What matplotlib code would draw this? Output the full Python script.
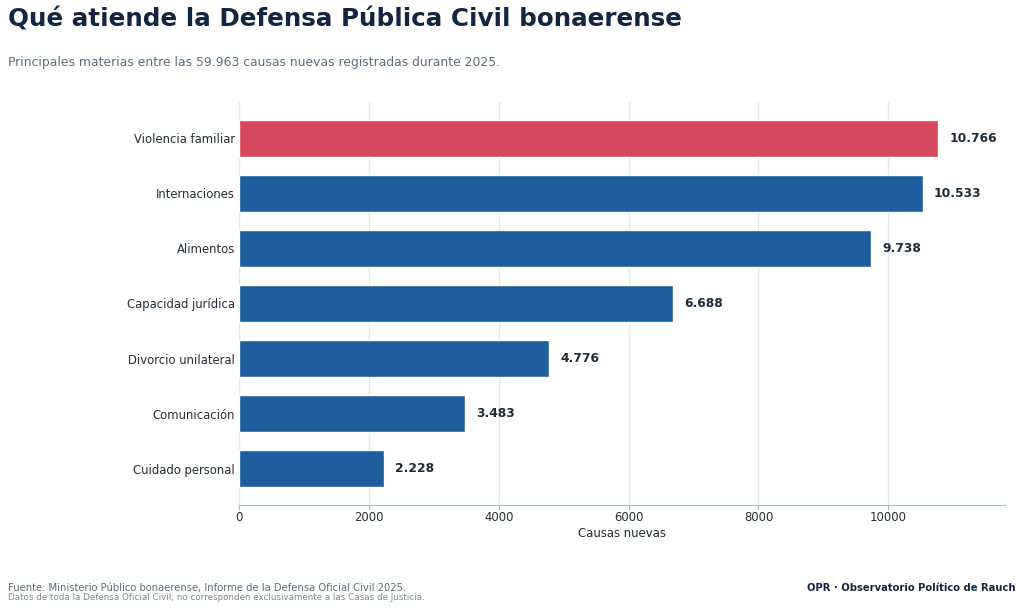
import matplotlib
matplotlib.use("Agg")
import matplotlib.pyplot as plt

materias = ["Violencia familiar", "Internaciones", "Alimentos", "Capacidad jurídica",
            "Divorcio unilateral", "Comunicación", "Cuidado personal"]
causas = [10766, 10533, 9738, 6688, 4776, 3483, 2228]
etiquetas = ["10.766", "10.533", "9.738", "6.688", "4.776", "3.483", "2.228"]

rojo = "#d4485d"
azul = "#1f5e9c"
colores = [rojo] + [azul] * (len(causas) - 1)

fig = plt.figure(figsize=(10.24, 6.1), dpi=100)
ax = fig.add_axes([0.2334, 0.172, 0.7476, 0.661])

y = list(range(len(materias)))
ax.barh(y, causas, height=0.66, color=colores, edgecolor="white", linewidth=1, zorder=3)
ax.set_yticks(y)
ax.set_yticklabels(materias, fontsize=9.3, fontstretch="condensed", color="#222b36")
ax.invert_yaxis()
ax.set_xlim(0, 11790)

for yi, v, t in zip(y, causas, etiquetas):
    ax.annotate(t, (v, yi), xytext=(8, 0), textcoords="offset points",
                va="center", ha="left", fontsize=8.8, fontweight="bold", color="#1f2a37")

ax.grid(axis="x", color="#e3e7ec", linewidth=1, zorder=0)
ax.grid(axis="y", visible=False)
for s in ["top", "right", "left"]:
    ax.spines[s].set_visible(False)
ax.spines["bottom"].set_color("#a9bccb")
ax.tick_params(axis="y", length=0, pad=3)
ax.tick_params(axis="x", colors="#222b36", labelsize=9.3, color="#a9bccb", pad=1)
ax.set_xlabel("Causas nuevas", fontsize=9.4, fontstretch="condensed", color="#222b36", labelpad=2)
for lab in ax.get_xticklabels():
    lab.set_fontstretch("condensed")

fig.text(0.008, 0.968, "Qué atiende la Defensa Pública Civil bonaerense", fontsize=17.7,
         fontweight="bold", color="#14263f", va="center", ha="left")
fig.text(0.008, 0.898, "Principales materias entre las 59.963 causas nuevas registradas durante 2025.",
         fontsize=8.9, color="#5b6b7c", va="center", ha="left")
fig.text(0.008, 0.036, "Fuente: Ministerio Público bonaerense, Informe de la Defensa Oficial Civil 2025.",
         fontsize=7.2, color="#5b6b7c", va="center", ha="left")
fig.text(0.008, 0.021, "Datos de toda la Defensa Oficial Civil; no corresponden exclusivamente a las Casas de Justicia.",
         fontsize=6.3, color="#7a8794", va="center", ha="left")
fig.text(0.992, 0.036, "OPR · Observatorio Político de Rauch", fontsize=7.2, fontweight="bold",
         color="#14263f", va="center", ha="right")

fig.savefig("out.png", dpi=100)
